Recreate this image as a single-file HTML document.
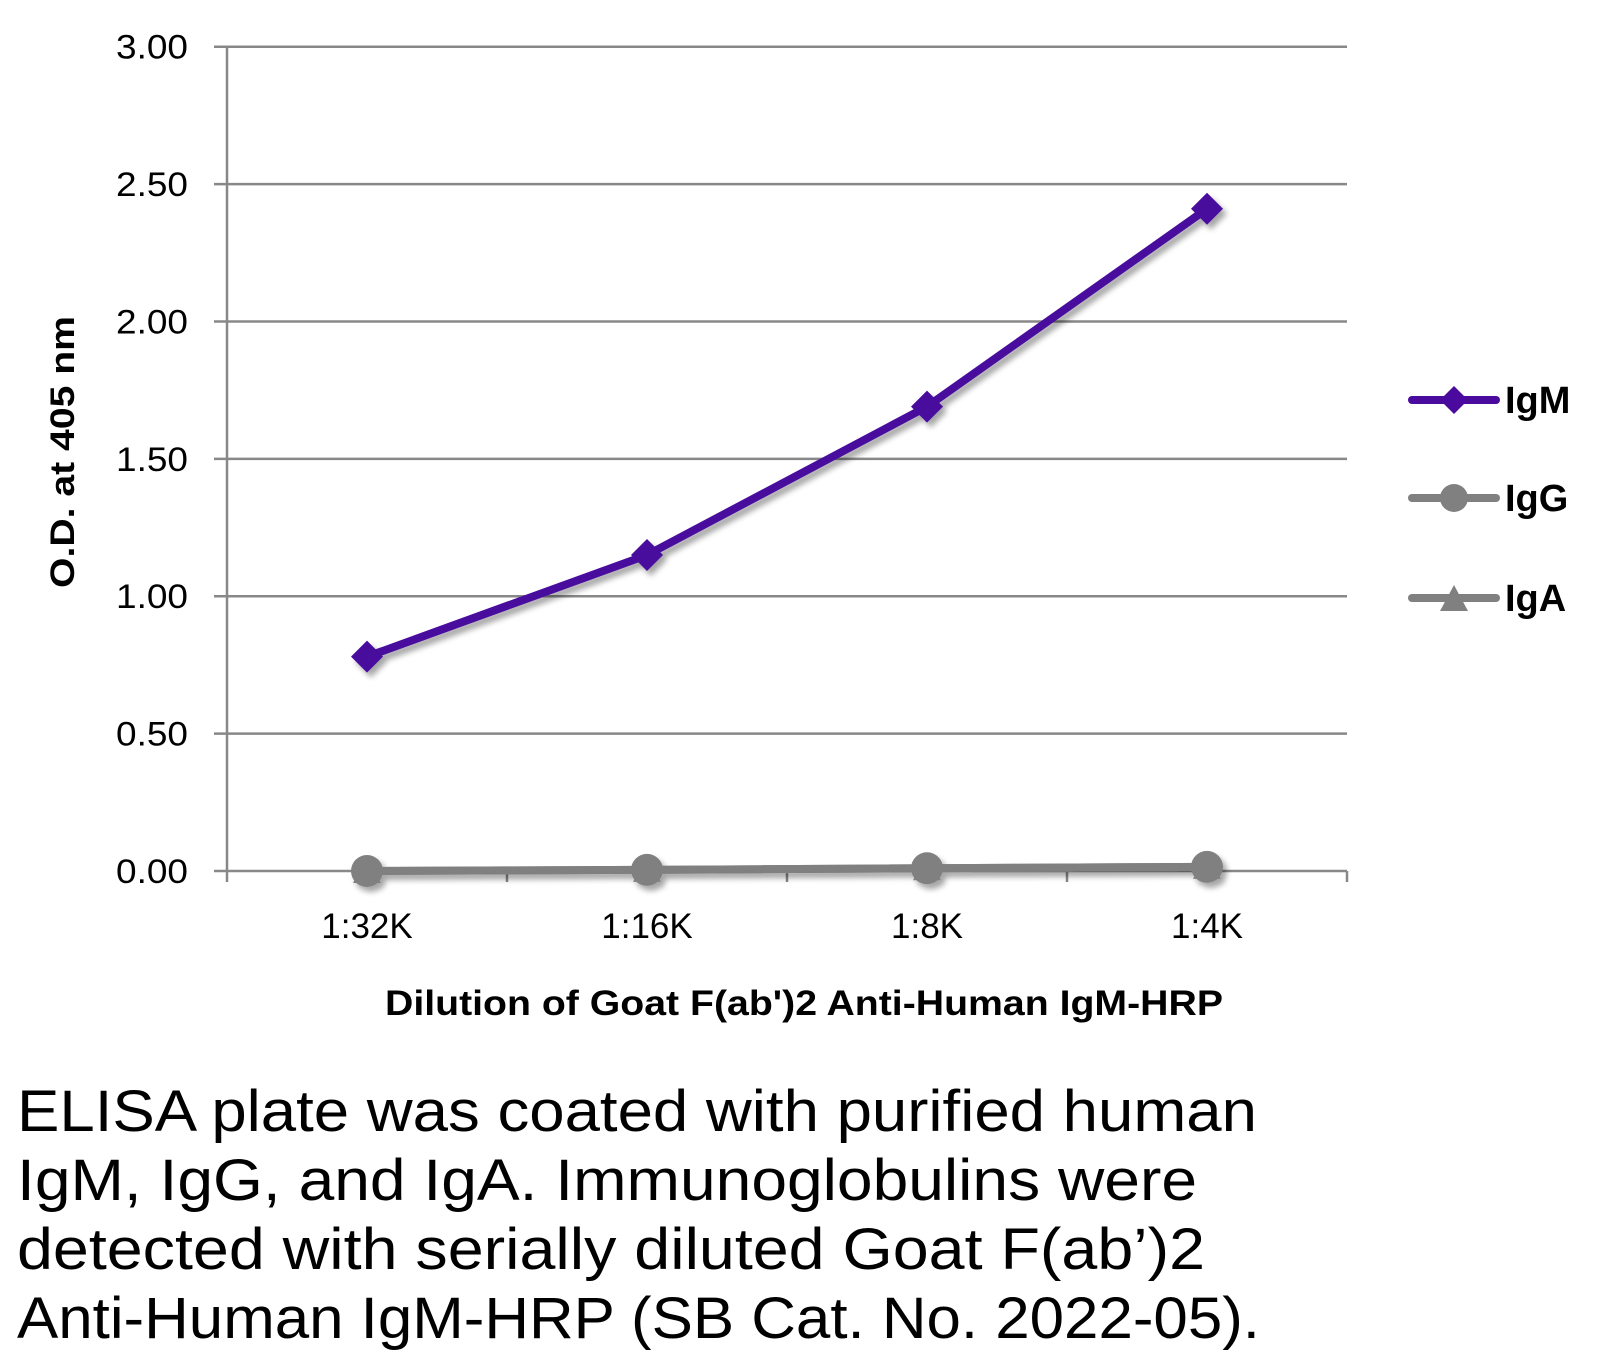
<!DOCTYPE html>
<html><head><meta charset="utf-8"><style>
html,body{margin:0;padding:0;background:#fff;}
svg{display:block;}
text{font-family:"Liberation Sans",sans-serif;}
</style></head><body>
<svg id="chart" width="1614" height="1362" viewBox="0 0 1614 1362">
<defs><filter id="sh" x="-20%" y="-20%" width="140%" height="140%"><feGaussianBlur in="SourceAlpha" stdDeviation="3"/><feOffset dx="4" dy="5"/><feComponentTransfer><feFuncA type="linear" slope="0.35"/></feComponentTransfer><feMerge><feMergeNode/><feMergeNode in="SourceGraphic"/></feMerge></filter></defs>
<g id="grid"></g>
<g id="axes"></g>
<g id="series" filter="url(#sh)"></g>
<text x="74" y="452" transform="rotate(-90 74 452)" text-anchor="middle" font-size="34" font-weight="bold" textLength="272" lengthAdjust="spacingAndGlyphs">O.D. at 405 nm</text>
<text x="804" y="1015" text-anchor="middle" font-size="35" font-weight="bold" textLength="838" lengthAdjust="spacingAndGlyphs">Dilution of Goat F(ab')2 Anti-Human IgM-HRP</text>
<g>
<g>
<line x1="1412" y1="400" x2="1496" y2="400" stroke="#4a0a9e" stroke-width="8" stroke-linecap="round"/>
<polygon points="1454,386 1468,400 1454,414 1440,400" fill="#4a0a9e"/>
<text x="1505" y="413" font-size="38" font-weight="bold">IgM</text></g>
<g>
<line x1="1412" y1="498" x2="1496" y2="498" stroke="#808080" stroke-width="8" stroke-linecap="round"/>
<circle cx="1454" cy="498" r="14" fill="#808080"/>
<text x="1505" y="511" font-size="38" font-weight="bold">IgG</text></g>
<g>
<line x1="1412" y1="598" x2="1496" y2="598" stroke="#808080" stroke-width="8" stroke-linecap="round"/>
<polygon points="1454,585 1468,611 1440,611" fill="#808080"/>
<text x="1505" y="611" font-size="38" font-weight="bold">IgA</text></g>
</g>
<g font-size="58">
<text x="17" y="1131" textLength="1240" lengthAdjust="spacingAndGlyphs">ELISA plate was coated with purified human</text>
<text x="17" y="1200" textLength="1180" lengthAdjust="spacingAndGlyphs">IgM, IgG, and IgA.  Immunoglobulins were</text>
<text x="17" y="1269" textLength="1188" lengthAdjust="spacingAndGlyphs">detected with serially diluted Goat F(ab’)2</text>
<text x="17" y="1338" textLength="1243" lengthAdjust="spacingAndGlyphs">Anti-Human IgM-HRP (SB Cat. No. 2022-05).</text>
</g>
</svg>
<script>
const categories = ["1:32K","1:16K","1:8K","1:4K"];
const igm = [0.78, 1.15, 1.69, 2.41];
const igg = [0.00, 0.004, 0.01, 0.015];
const iga = [0.00, 0.004, 0.01, 0.015];
const yTicks = [0, 0.5, 1, 1.5, 2, 2.5, 3];
const yTickLabels = ["0.00","0.50","1.00","1.50","2.00","2.50","3.00"];

const NS = "http://www.w3.org/2000/svg";
const X0 = 227, X1 = 1347, Y0 = 871, Y3 = 46.7;
function xPos(i){ return X0 + (X1 - X0) / categories.length * (i + 0.5); }
function yPos(v){ return Y0 - (Y0 - Y3) * v / 3; }
function mk(tag, attrs, parent){ const e = document.createElementNS(NS, tag); for (const k in attrs) e.setAttribute(k, attrs[k]); parent.appendChild(e); return e; }
const grid = document.getElementById('grid'), axes = document.getElementById('axes'), ser = document.getElementById('series');

yTicks.forEach((v, i) => {
  const y = yPos(v);
  if (v > 0) {
    const g = mk('line', {x1: 214, x2: X1, y1: y, y2: y, stroke: '#888', 'stroke-width': 2.5}, grid);
    
    
  }
  const t = mk('text', {x: 188, y: y + 12, 'text-anchor': 'end', 'font-size': 34, textLength: 72, lengthAdjust: 'spacingAndGlyphs'}, axes);
  t.textContent = yTickLabels[i];
  
  
});
mk('line', {x1: X0, x2: X0, y1: Y3, y2: Y0, stroke: '#888', 'stroke-width': 2.5}, axes);
mk('line', {x1: 214, x2: X1, y1: Y0, y2: Y0, stroke: '#888', 'stroke-width': 2.5}, axes);
for (let i = 0; i <= categories.length; i++) {
  const x = X0 + (X1 - X0) / categories.length * i;
  mk('line', {x1: x, x2: x, y1: Y0, y2: Y0 + 11, stroke: '#888', 'stroke-width': 2.5}, axes);
}
categories.forEach((c, i) => {
  const t = mk('text', {x: xPos(i), y: 938, 'text-anchor': 'middle', 'font-size': 35}, axes);
  t.textContent = c;
  
  
});

function drawLine(vals, color, name){
  const pts = vals.map((v, i) => xPos(i) + ',' + yPos(v)).join(' ');
  const l = mk('polyline', {points: pts, fill: 'none', stroke: color, 'stroke-width': 8, 'stroke-linejoin': 'round'}, ser);
  
  
}
drawLine(iga, '#808080', 'iga');
drawLine(igg, '#808080', 'igg');
drawLine(igm, '#4a0a9e', 'igm');
iga.forEach((v, i) => {
  const x = xPos(i), y = yPos(v);
  const p = mk('polygon', {points: `${x},${y-14} ${x+14},${y+12} ${x-14},${y+12}`, fill: '#808080'}, ser);
  
  
});
igg.forEach((v, i) => {
  const c = mk('circle', {cx: xPos(i), cy: yPos(v), r: 16, fill: '#808080'}, ser);
  
  
});
igm.forEach((v, i) => {
  const x = xPos(i), y = yPos(v);
  const p = mk('polygon', {points: `${x},${y-16} ${x+16},${y} ${x},${y+16} ${x-16},${y}`, fill: '#4a0a9e'}, ser);
  
  
});
</script>
</body></html>
